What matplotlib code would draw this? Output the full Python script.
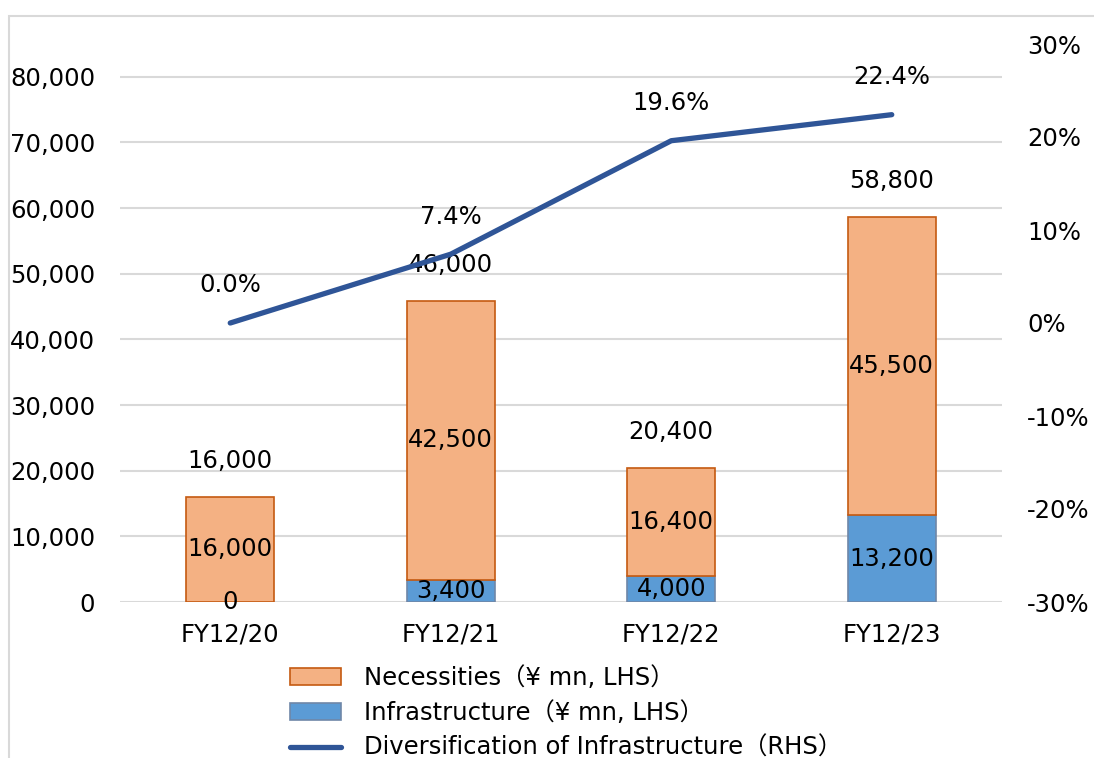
import numpy as np
import matplotlib.pyplot as plt
from matplotlib.patches import Patch, Rectangle
from matplotlib.lines import Line2D

plt.rcParams['font.family'] = ['DejaVu Sans', 'Noto Sans CJK JP']
plt.rcParams['font.size'] = 17.5

years = ["FY12/20", "FY12/21", "FY12/22", "FY12/23"]
infrastructure = [0, 3400, 4000, 13200]
necessities = [16000, 42500, 16400, 45500]
totals = [16000, 46000, 20400, 58800]
diversification = [0.0, 7.4, 19.6, 22.4]

fig = plt.figure(figsize=(10.94, 7.58), dpi=100)
ax = fig.add_axes([120 / 1094, 156 / 758, 882 / 1094, 558 / 758])

# light frame around the chart area
fig.patches.append(Rectangle((9 / 1094, -0.05), 1.1, 0.05 + 742 / 758,
                             transform=fig.transFigure, fill=False,
                             edgecolor="#d9d9d9", linewidth=1.5))

x = np.arange(len(years))
w = 0.40
ax.bar(x, infrastructure, w, color="#5B9BD5", edgecolor="#6f87a8", linewidth=1.2, zorder=3)
ax.bar(x, necessities, w, bottom=infrastructure, color="#F4B183", edgecolor="#C55A11",
       linewidth=1.2, zorder=3)

for i in range(len(years)):
    ax.text(x[i], infrastructure[i] / 2 if infrastructure[i] else 0, f"{infrastructure[i]:,}",
            ha="center", va="center", zorder=5)
    ax.text(x[i], infrastructure[i] + necessities[i] / 2, f"{necessities[i]:,}",
            ha="center", va="center", zorder=5)
    ax.annotate(f"{totals[i]:,}", (x[i], infrastructure[i] + necessities[i]),
                xytext=(0, 26), textcoords="offset points", ha="center", va="center", zorder=5)

ax.set_xlim(-0.5, 3.5)
ax.set_ylim(0, 85000)
ax.set_yticks(range(0, 80001, 10000))
ax.set_yticklabels([f"{v:,}" for v in range(0, 80001, 10000)])
ax.set_xticks(x)
ax.set_xticklabels(years)
ax.grid(axis="y", color="#d9d9d9", linewidth=1.5, zorder=0)
ax.tick_params(length=0)
ax.tick_params(axis="y", pad=18)
ax.tick_params(axis="x", pad=15)
for s in ax.spines.values():
    s.set_visible(False)

ax2 = ax.twinx()
ax2.plot(x, diversification, color="#2F5597", linewidth=3.8, solid_capstyle="round", zorder=4)
for i in range(len(years)):
    ax2.annotate(f"{diversification[i]:.1f}%", (x[i], diversification[i]),
                 xytext=(0, 27), textcoords="offset points", ha="center", va="center")
ax2.set_ylim(-30, 30)
ax2.set_yticks(range(-30, 31, 10))
ax2.set_yticklabels([f"{v}%" for v in range(-30, 31, 10)])
for lab in ax2.get_yticklabels():
    lab.set_horizontalalignment("left")
ax2.tick_params(length=0, pad=18)
for s in ax2.spines.values():
    s.set_visible(False)

handles = [
    Patch(facecolor="#F4B183", edgecolor="#C55A11", linewidth=1.2),
    Patch(facecolor="#5B9BD5", edgecolor="#6f87a8", linewidth=1.2),
    Line2D([0], [0], color="#2F5597", linewidth=3.8, solid_capstyle="round"),
]
labels = ["Necessities（¥ mn, LHS）", "Infrastructure（¥ mn, LHS）",
          "Diversification of Infrastructure（RHS）"]
fig.legend(handles, labels, loc="upper left", bbox_to_anchor=(278 / 1094, 1 - 654 / 758),
           frameon=False, handlelength=2.1, handleheight=0.7, handletextpad=0.95,
           labelspacing=0.45, borderpad=0, fontsize=17.5)

fig.savefig("out.png", dpi=100)
